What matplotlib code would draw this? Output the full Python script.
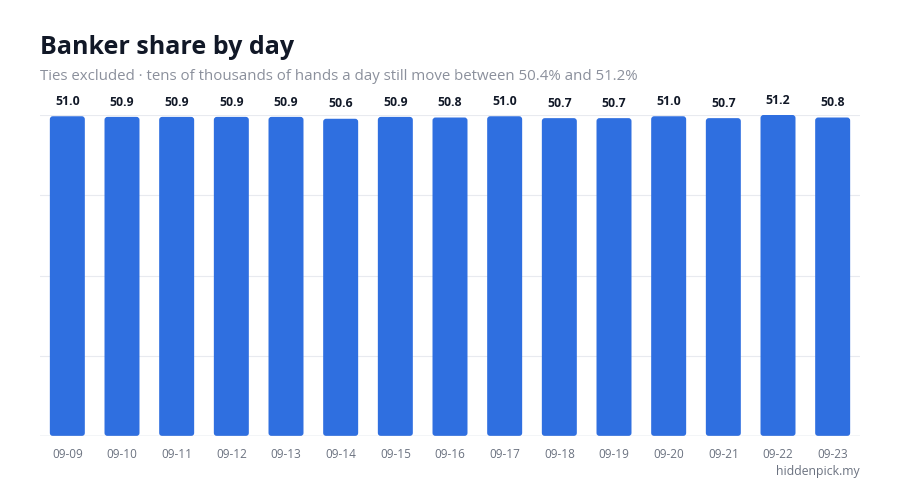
import matplotlib.pyplot as plt
from matplotlib.patches import FancyBboxPatch

plt.rcParams['font.family'] = ['Open Sans', 'DejaVu Sans']

days = ['09-09', '09-10', '09-11', '09-12', '09-13', '09-14', '09-15', '09-16',
        '09-17', '09-18', '09-19', '09-20', '09-21', '09-22', '09-23']
banker_share = [51.0, 50.9, 50.9, 50.9, 50.9, 50.6, 50.9, 50.8,
                51.0, 50.7, 50.7, 51.0, 50.7, 51.2, 50.8]

bar_color = '#2f6fe0'

fig = plt.figure(figsize=(9, 5), dpi=100)
ax = fig.add_axes([40 / 900, 1 - 436 / 500, 820 / 900, 321 / 500])

x = list(range(len(days)))
ymax = max(banker_share)
ax.set_xlim(-0.5, len(days) - 0.5)
ax.set_ylim(0, ymax)

# gridlines at quarters
for i in range(1, 5):
    ax.axhline(ymax * i / 4, color='#e8eaef', lw=0.8, zorder=0)
ax.axhline(0, color='#c5ccdb', lw=1.0, zorder=3)

width = 0.64
px_x = 820 / len(days)
px_y = 321 / ymax
r = 3 / px_x
bars = ax.bar(x, banker_share, width=width, color=bar_color, zorder=2)
for b in bars:
    b.set_visible(False)
    p = FancyBboxPatch((b.get_x(), 0), b.get_width(), b.get_height(),
                       boxstyle=f'round,pad=0,rounding_size={r}',
                       mutation_aspect=px_x / px_y,
                       fc=bar_color, ec='none', zorder=2)
    ax.add_patch(p)

for xi, v in zip(x, banker_share):
    ax.annotate(f'{v:.1f}', (xi, v), xytext=(0, 6), textcoords='offset points',
                ha='center', va='bottom', fontsize=8.8, fontweight='bold',
                color='#111827', annotation_clip=False)

ax.set_xticks(x)
ax.set_xticklabels(days, fontsize=8.5, color='#6b7280')
ax.tick_params(axis='x', length=0, pad=9)
ax.set_yticks([])
for s in ax.spines.values():
    s.set_visible(False)

fig.text(40 / 900, 1 - 47 / 500, 'Banker share by day', fontsize=18,
         fontweight='bold', color='#111827', ha='left', va='center')
fig.text(40 / 900, 1 - 77 / 500,
         'Ties excluded · tens of thousands of hands a day still move between 50.4% and 51.2%',
         fontsize=10.8, color='#8b909c', ha='left', va='center')
fig.text(860 / 900, 1 - 472 / 500, 'hiddenpick.my', fontsize=8.8,
         color='#6b7280', ha='right', va='center')

fig.savefig('out.png', dpi=100)
